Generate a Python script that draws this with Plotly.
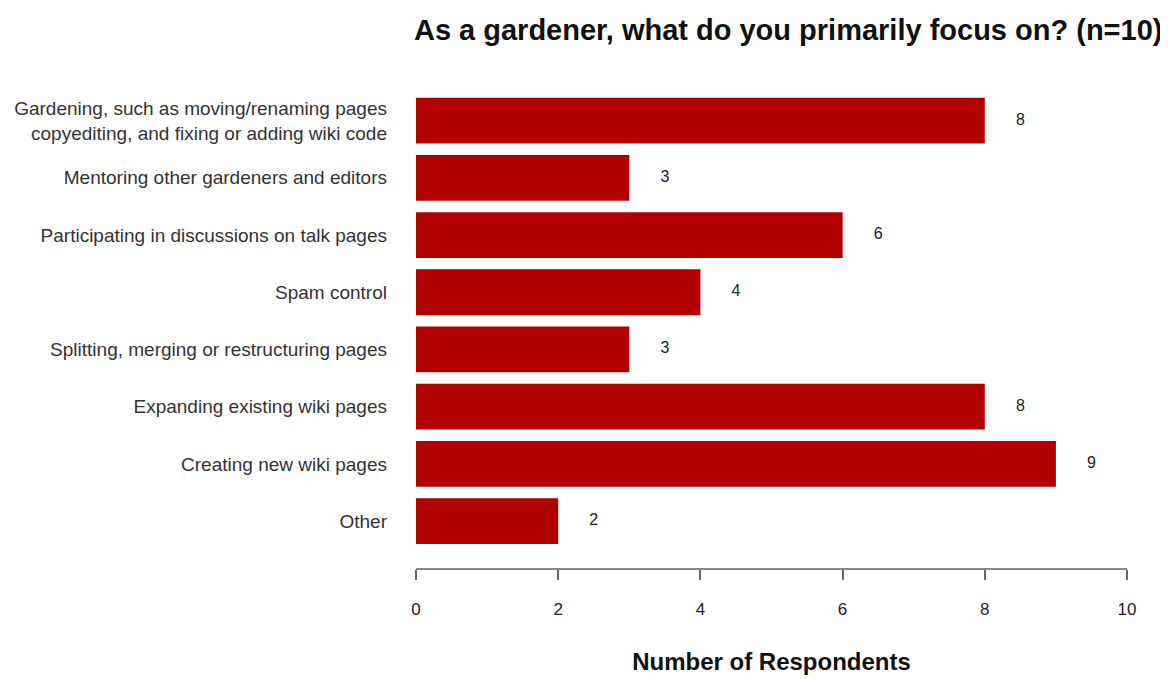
import plotly.graph_objects as go

categories = [
    "Gardening, such as moving/renaming pages<br>copyediting, and fixing or adding wiki code",
    "Mentoring other gardeners and editors",
    "Participating in discussions on talk pages",
    "Spam control",
    "Splitting, merging or restructuring pages",
    "Expanding existing wiki pages",
    "Creating new wiki pages",
    "Other",
]
values = [8, 3, 6, 4, 3, 8, 9, 2]
x_ticks = [0, 2, 4, 6, 8, 10]
title_text = "As a gardener, what do you primarily focus on? (n=10)"
x_title = "Number of Respondents"

FONT = "Liberation Sans, Arial, sans-serif"

fig = go.Figure()
fig.add_trace(go.Bar(
    x=values, y=categories, orientation="h",
    marker=dict(color="#b00000", line=dict(width=0)),
    width=0.8, showlegend=False, hoverinfo="x+y",
))
fig.add_trace(go.Scatter(
    x=[v + 0.5 for v in values], y=categories, mode="text",
    text=[str(v) for v in values], textposition="middle center",
    textfont=dict(family=FONT, size=16, color="#222222"),
    showlegend=False, hoverinfo="skip", cliponaxis=False,
))

fig.update_layout(
    width=1168, height=679,
    paper_bgcolor="white", plot_bgcolor="white",
    margin=dict(l=408, r=49, t=84, b=119, autoexpand=False),
    font=dict(family=FONT, size=16, color="#333333"),
    title=dict(text="<b>" + title_text + "</b>", x=0.668, xanchor="center",
               y=0.9676, yanchor="middle",
               font=dict(family=FONT, size=29, color="#111111")),
    bargap=0.2,
)
fig.update_xaxes(
    range=[0, 10], tickvals=x_ticks, ticktext=[str(t) for t in x_ticks],
    showgrid=False, zeroline=False, automargin=False,
    showline=True, linecolor="#888888", linewidth=2,
    ticks="outside", ticklen=10, tickwidth=1.5, tickcolor="#666666",
    ticklabelstandoff=15,
    tickfont=dict(family=FONT, size=17, color="#222222"),
    title=dict(text="<b>" + x_title + "</b>", standoff=35,
               font=dict(family=FONT, size=24, color="#111111")),
)
fig.update_yaxes(
    categoryorder="array", categoryarray=categories, automargin=False,
    range=[7.82, -0.5], showgrid=False, zeroline=False, showline=False,
    ticks="", ticklabelstandoff=28,
    tickfont=dict(family=FONT, size=19, color="#333333"),
)

fig.write_html("out.html")
